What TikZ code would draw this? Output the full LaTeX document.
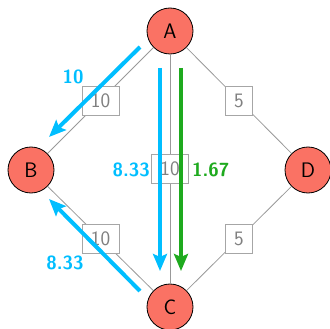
\documentclass[tikz,border=0pt]{standalone}
\usetikzlibrary{arrows.meta}
\definecolor{nodefill}{RGB}{250,114,100}
\definecolor{flowblue}{RGB}{0,190,255}
\definecolor{flowgreen}{RGB}{30,170,30}
\begin{document}
\begin{tikzpicture}[x=1pt,y=-1pt,
  vert/.style={circle,draw=black,line width=0.8pt,fill=nodefill,minimum size=46pt,inner sep=0pt,font=\fontsize{21}{24}\selectfont\sffamily},
  lblbox/.style={draw=gray!70,fill=white,line width=0.8pt,inner sep=0pt,minimum height=29pt,text=gray,font=\fontsize{20.5}{23}\selectfont\sffamily},
  widebox/.style={lblbox,minimum width=37pt},
  narrowbox/.style={lblbox,minimum width=27pt},
  link/.style={draw=gray!80,line width=0.8pt},
  flow/.style={line width=4pt,-{Stealth[length=17pt,width=14pt,inset=3pt]}},
  flowlbl/.style={font=\fontsize{19}{22}\selectfont\sffamily\bfseries,inner sep=0pt}]
\useasboundingbox (0,0) rectangle (330,329);
\node[vert] (A) at (170,31) {A};
\node[vert] (B) at (31,170) {B};
\node[vert] (C) at (170,307) {C};
\node[vert] (D) at (308,170) {D};
\draw[link] (A) -- node[widebox] (ab) {10} (B);
\draw[link] (A) -- node[narrowbox] (ad) {5} (D);
\draw[link] (A) -- node[widebox] (ac) {10} (C);
\draw[link] (B) -- node[widebox] (bc) {10} (C);
\draw[link] (D) -- node[narrowbox] (dc) {5} (C);
\coordinate (f1s) at (140,47);
\coordinate (f1e) at (49,137);
\coordinate (f2s) at (160,68);
\coordinate (f2e) at (160,271);
\coordinate (f3s) at (181,68);
\coordinate (f3e) at (181,271);
\coordinate (f4s) at (140,291);
\coordinate (f4e) at (49,199);
\draw[flow,flowblue] (f1s) -- (f1e);
\draw[flow,flowblue] (f2s) -- (f2e);
\draw[flow,flowgreen] (f3s) -- (f3e);
\draw[flow,flowblue] (f4s) -- (f4e);
\node[flowlbl,text=flowblue] (l1) at (73,77) {10};
\node[flowlbl,text=flowblue,anchor=east] (l2) at (150,170) {8.33};
\node[flowlbl,text=flowgreen,anchor=west] (l3) at (192,170) {1.67};
\node[flowlbl,text=flowblue] (l4) at (65,263) {8.33};
\end{tikzpicture}
\end{document}
